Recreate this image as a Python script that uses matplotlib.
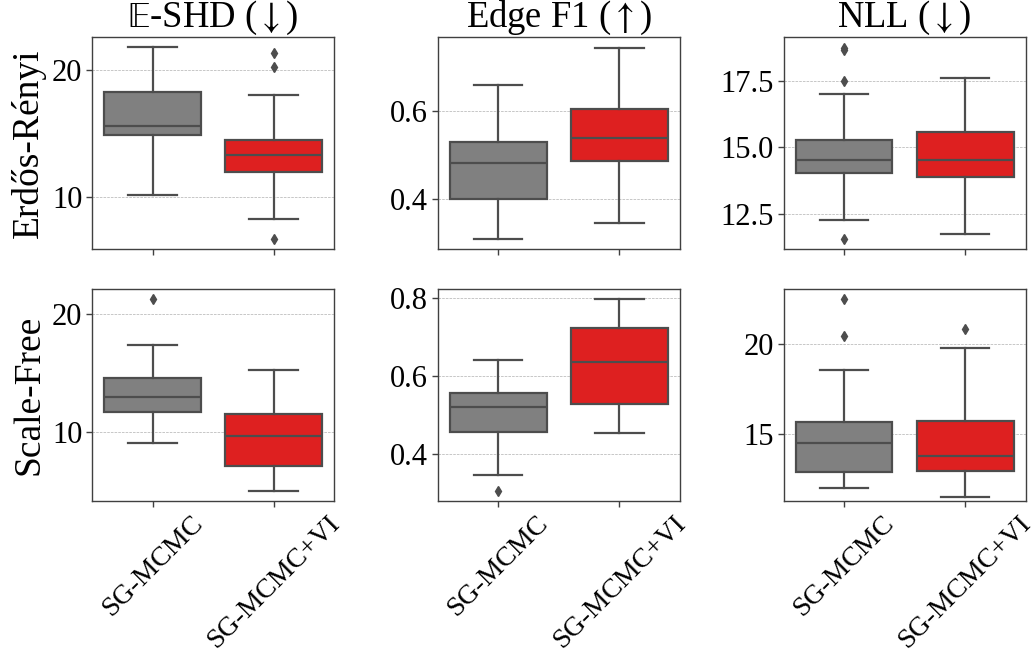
import matplotlib
matplotlib.use("Agg")
import matplotlib.pyplot as plt

plt.rcParams["font.family"] = ["Liberation Serif", "DejaVu Serif"]
plt.rcParams["mathtext.fontset"] = "stix"
plt.rcParams["font.size"] = 22

methods = ["SG-MCMC", "SG-MCMC+VI"]
colors = ["#808080", "#de2020"]
metrics = [r"$\mathrm{\mathbb{E}}$-SHD ($\downarrow$)", r"Edge F1 ($\uparrow$)", r"NLL ($\downarrow$)"]
graphs = ["Erdős-Rényi", "Scale-Free"]

# box stats per panel: [whislo, q1, med, q3, whishi], fliers
er_shd = [[10.13, 14.9, 15.61, 18.29, 21.81], [8.29, 11.94, 13.35, 14.49, 18.03]]
er_shd_fl = [[], [21.39, 20.26, 6.71]]
er_f1 = [[0.309, 0.401, 0.482, 0.530, 0.660], [0.345, 0.487, 0.539, 0.605, 0.745]]
er_f1_fl = [[], []]
er_nll = [[12.26, 14.03, 14.54, 15.28, 17.01], [11.73, 13.89, 14.51, 15.58, 17.62]]
er_nll_fl = [[18.77, 18.68, 17.5, 11.54], []]

sf_shd = [[9.10, 11.66, 12.99, 14.53, 17.38], [5.0, 7.17, 9.71, 11.55, 15.27]]
sf_shd_fl = [[21.24], []]
sf_f1 = [[0.347, 0.457, 0.521, 0.557, 0.642], [0.454, 0.528, 0.635, 0.722, 0.798]]
sf_f1_fl = [[0.304], []]
sf_nll = [[12.0, 12.91, 14.48, 15.67, 18.53], [11.54, 12.96, 13.76, 15.74, 19.76]]
sf_nll_fl = [[22.48, 20.44], [20.85]]

panels = [
    [(er_shd, er_shd_fl), (er_f1, er_f1_fl), (er_nll, er_nll_fl)],
    [(sf_shd, sf_shd_fl), (sf_f1, sf_f1_fl), (sf_nll, sf_nll_fl)],
]
ylims = [
    [(5.93, 22.62), (0.287, 0.769), (11.18, 19.17)],
    [(4.19, 22.03), (0.279, 0.822), (11.29, 23.02)],
]
yticks = [
    [[10, 20], [0.4, 0.6], [12.5, 15.0, 17.5]],
    [[10, 20], [0.4, 0.6, 0.8], [15, 20]],
]
ytickfmt = [["{:.0f}", "{:.1f}", "{:.1f}"], ["{:.0f}", "{:.1f}", "{:.0f}"]]

line_c = "#4d4d4d"

fig, axes = plt.subplots(2, 3, figsize=(10.36, 6.61), dpi=100)
fig.subplots_adjust(left=0.0888, right=0.990, top=0.944, bottom=0.242,
                    wspace=0.428, hspace=0.193)

for r in range(2):
    for c in range(3):
        ax = axes[r, c]
        vals, fl = panels[r][c]
        stats = []
        for i in range(2):
            lo, q1, med, q3, hi = vals[i]
            stats.append(dict(whislo=lo, q1=q1, med=med, q3=q3, whishi=hi,
                              fliers=fl[i], label=methods[i]))
        bp = ax.bxp(stats, positions=[0, 1], widths=0.8, patch_artist=True,
                    boxprops=dict(edgecolor=line_c, linewidth=1.6),
                    medianprops=dict(color=line_c, linewidth=1.6),
                    whiskerprops=dict(color=line_c, linewidth=1.6),
                    capprops=dict(color=line_c, linewidth=1.6),
                    capwidths=0.4,
                    flierprops=dict(marker="d", markerfacecolor=line_c,
                                    markeredgecolor=line_c, markersize=5))
        for patch, col in zip(bp["boxes"], colors):
            patch.set_facecolor(col)
        ax.set_xlim(-0.5, 1.5)
        ax.set_ylim(*ylims[r][c])
        ax.set_yticks(yticks[r][c])
        ax.set_yticklabels([ytickfmt[r][c].format(v) for v in yticks[r][c]])
        ax.yaxis.grid(True, linestyle="--", linewidth=0.5, color="#b0b0b0")
        ax.set_axisbelow(True)
        for sp in ax.spines.values():
            sp.set_color("#404040")
            sp.set_linewidth(1.0)
        ax.tick_params(axis="both", color="#404040", length=4, width=1, pad=3)
        ax.set_xticks([0, 1])
        if r == 1:
            ax.set_xticklabels(methods, rotation=45, ha="center", fontsize=20)
        else:
            ax.set_xticklabels([])
            ax.set_title(metrics[c], pad=2)
        if c == 0:
            ax.set_ylabel(graphs[r], fontsize=27, labelpad=4)

fig.savefig("out.png", dpi=100)
